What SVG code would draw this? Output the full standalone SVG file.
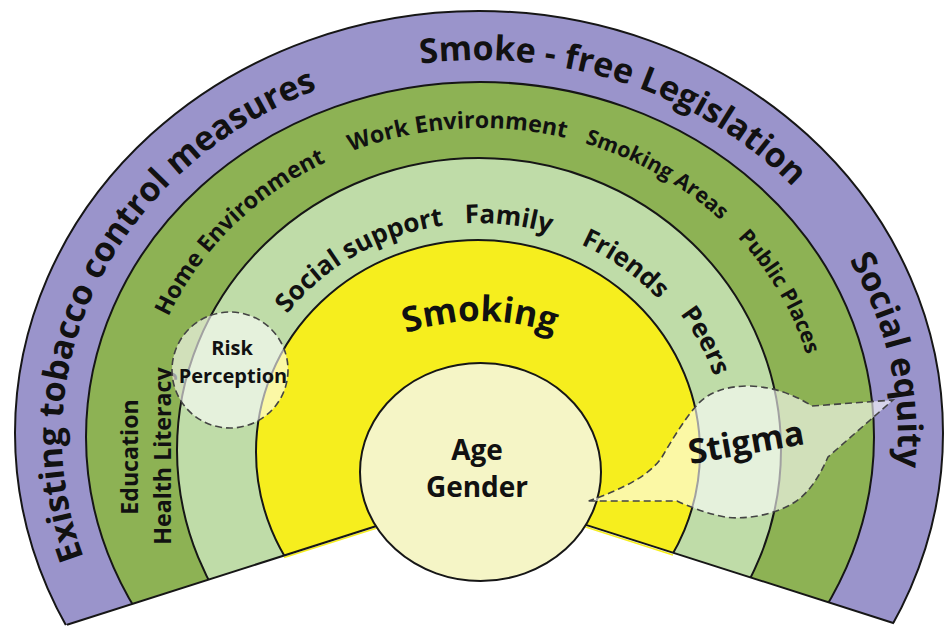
<svg xmlns="http://www.w3.org/2000/svg" width="944" height="627" viewBox="0 0 944 627">
<style>
.t{font-family:"Open Sans","Noto Sans","DejaVu Sans",sans-serif;font-weight:700;fill:#111}
.p{font-size:34px}
.d{font-size:23.2px}
.ds{font-size:21.3px}
.l{font-size:26px}
.band{stroke:#161616;stroke-width:2}
.edge{stroke:#161616;stroke-width:2;fill:none}
.fringe{stroke:#f6ee1e;stroke-width:1.6;fill:none}
.dash{fill:#ffffff;fill-opacity:0.6;stroke:#444;stroke-width:1.6;stroke-dasharray:7 4}
</style>
<defs>
<clipPath id="fan"><polygon points="483,492 1150,705 1150,-20 -200,-20 -200,710"/></clipPath>
<path id="pA" d="M104.3,602.3 A418,377 0 0 1 364.8,74.6"/>
<path id="pB" d="M340.5,81.6 A418,377 0 0 1 843.8,251.4"/>
<path id="pC" d="M793.1,187.2 A418,377 0 0 1 876.4,556.6"/>
<path id="pD" d="M140.3,456.7 A340,315 0 0 1 465.2,128.3"/>
<path id="pE" d="M223.4,236.3 A340,315 0 0 1 703.1,205.3"/>
<path id="pF" d="M462.2,128.4 A340,315 0 0 1 793,319.9"/>
<path id="pG" d="M634.4,162.3 A340,315 0 0 1 817.5,481.4"/>
<path id="pI" d="M259.8,358.3 A240,228 0 0 1 495.7,223.5"/>
<path id="pJ" d="M404.8,234.2 A240,228 0 0 1 606.2,257.7"/>
<path id="pK" d="M508.3,224.7 A240,228 0 0 1 699.9,361.9"/>
<path id="pL" d="M631.7,266.6 A248,234 0 0 1 726.9,442.8"/>
<path id="pS" d="M366,351.6 A228,228 0 0 1 594,351.6"/>
</defs>

<g id="policy-band">
<ellipse class="band" cx="479" cy="433" rx="464" ry="422" fill="#9a94cb" clip-path="url(#fan)"/>
<text class="t p"><textPath href="#pA" startOffset="50%" text-anchor="middle">Existing tobacco control measures</textPath></text>
<text class="t p"><textPath href="#pB" startOffset="50%" text-anchor="middle">Smoke - free Legislation</textPath></text>
<text class="t p"><textPath href="#pC" startOffset="50%" text-anchor="middle">Social equity</textPath></text>
</g>

<g id="environment-band">
<ellipse class="band" cx="480" cy="437" rx="394" ry="355" fill="#8db254" clip-path="url(#fan)"/>
<text class="t d"><textPath href="#pD" startOffset="50%" text-anchor="middle">Home Environment</textPath></text>
<text class="t d"><textPath href="#pE" startOffset="50%" text-anchor="middle">Work Environment</textPath></text>
<text class="t ds"><textPath href="#pF" startOffset="50%" text-anchor="middle">Smoking Areas</textPath></text>
<text class="t ds"><textPath href="#pG" startOffset="50%" text-anchor="middle">Public Places</textPath></text>
<text class="t d" transform="translate(138,457) rotate(-90)" text-anchor="middle">Education</text>
<text class="t d" transform="translate(171,456) rotate(-90)" text-anchor="middle">Health Literacy</text>
</g>

<g id="social-band">
<ellipse class="band" cx="479" cy="450" rx="302" ry="292" fill="#bfdca8" clip-path="url(#fan)"/>
<text class="t l"><textPath href="#pI" startOffset="50%" text-anchor="middle">Social support</textPath></text>
<text class="t l"><textPath href="#pJ" startOffset="50%" text-anchor="middle">Family</textPath></text>
<text class="t l"><textPath href="#pK" startOffset="50%" text-anchor="middle">Friends</textPath></text>
<text class="t l"><textPath href="#pL" startOffset="50%" text-anchor="middle">Peers</textPath></text>
</g>

<g id="smoking-band">
<ellipse class="band" cx="478" cy="452" rx="222" ry="212" fill="#f6ee1e" clip-path="url(#fan)"/>
<text class="t" font-size="35"><textPath href="#pS" startOffset="50%" text-anchor="middle">Smoking</textPath></text>
</g>

<g id="fan-edges">
<line class="fringe" x1="284" y1="557.6" x2="380" y2="527"/>
<line class="fringe" x1="585" y1="526.8" x2="673" y2="554.9"/>
<line class="edge" x1="67" y1="624.8" x2="400" y2="518.5"/>
<line class="edge" x1="560" y1="516.6" x2="894" y2="623.2"/>
</g>

<g id="age-gender">
<ellipse class="band" cx="480.5" cy="472" rx="120.5" ry="109" fill="#f5f5c6"/>
<text class="t" font-size="28" x="477" y="460" text-anchor="middle">Age</text>
<text class="t" font-size="28" x="477" y="497" text-anchor="middle">Gender</text>
</g>

<g id="risk-perception">
<circle class="dash" cx="230" cy="370" r="58"/>
<text class="t" font-size="20" x="232" y="355" text-anchor="middle">Risk</text>
<text class="t" font-size="20" x="233" y="383" text-anchor="middle">Perception</text>
</g>

<g id="stigma">
<path class="dash" d="M588.7,501 L677,501 C690,507 705,513 725,517 C745,520 775,515 795,502 C810,492 820,475 828,457 L893,400 L812,406 C795,395 775,387 749,386 C725,386 708,393 698,404 C685,418 672,440 662,457 C650,475 625,488 588.7,501 Z"/>
<text class="t" font-size="34" transform="translate(748,454) rotate(-10)" text-anchor="middle">Stigma</text>
</g>
</svg>
